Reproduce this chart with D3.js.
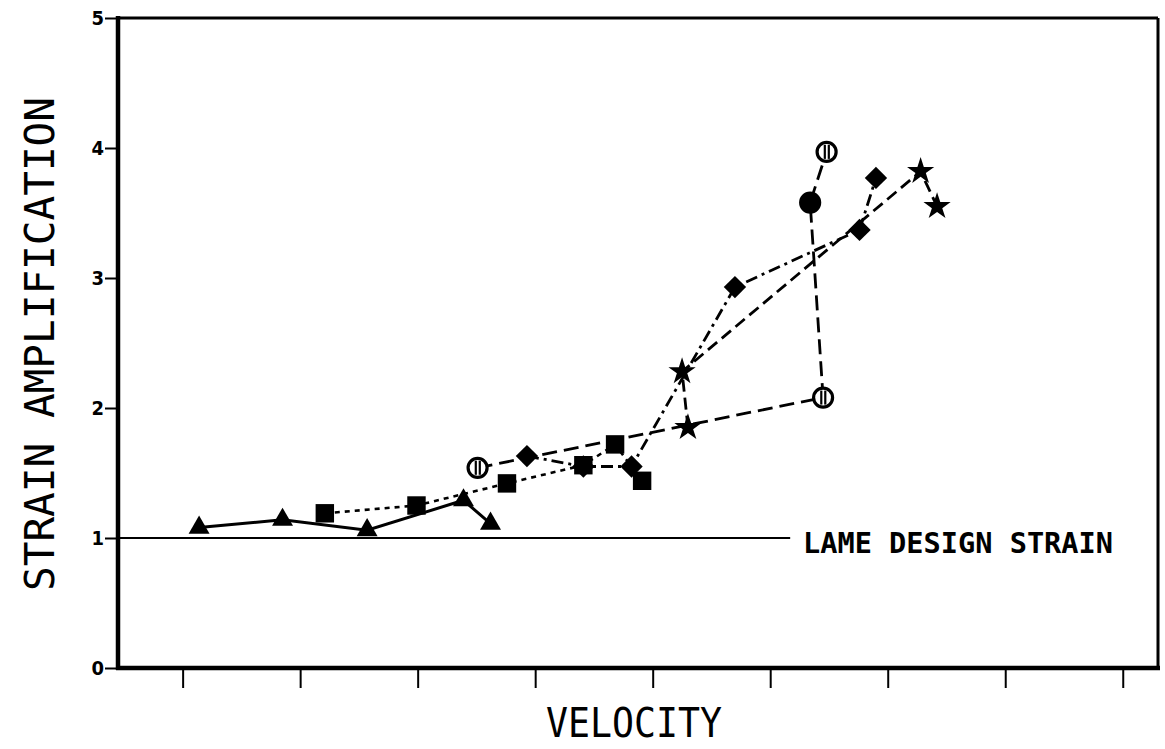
<!DOCTYPE html>
<html>
<head>
<meta charset="utf-8">
<script src="https://cdn.jsdelivr.net/npm/d3@7"></script>
<style>
  html, body { margin: 0; padding: 0; background: #fff; }
  svg { display: block; }
  text { font-family: "DejaVu Sans Mono", monospace; fill: #000; }
</style>
</head>
<body>
<svg id="chart" width="1165" height="749"></svg>
<script>
// Strain amplification against velocity, five test series
const yTicks = [0, 1, 2, 3, 4, 5];
const yTickLabels = ["0", "1", "2", "3", "4", "5"];
const xTicks = [1, 2, 3, 4, 5, 6, 7, 8, 9];

const triangleX = [1.14, 1.85, 2.57, 3.39, 3.62];
const triangleY = [1.08, 1.14, 1.06, 1.29, 1.11];

const squareX = [2.21, 2.99, 3.76, 4.41, 4.68, 4.91];
const squareY = [1.19, 1.25, 1.42, 1.56, 1.72, 1.44];

const diamondX = [3.93, 4.41, 4.82, 5.70, 6.76, 6.90];
const diamondY = [1.63, 1.55, 1.55, 2.93, 3.37, 3.77];

const starX = [5.30, 5.25, 7.28, 7.42];
const starY = [1.85, 2.28, 3.82, 3.55];

const circleX = [3.51, 6.45, 6.34, 6.48];
const circleY = [1.54, 2.08, 3.58, 3.97];
const circleFilled = [false, false, true, false];

const designStrain = 1;
const designLabel = "LAME DESIGN STRAIN";
const designEndX = 6.17;

const svg = d3.select("#chart");
const plotL = 118, plotR = 1158, plotT = 18, plotB = 668;

const x = d3.scaleLinear().domain([0.45, 9.3]).range([plotL, plotR]);
const y = d3.scaleLinear().domain([0, 5]).range([plotB, plotT]);

const pts = (xs, ys) => xs.map((v, i) => [v, ys[i]]);
const line = d3.line().x(d => x(d[0])).y(d => y(d[1]));

// Frame
svg.append("line").attr("x1", plotL).attr("x2", plotR).attr("y1", plotT).attr("y2", plotT)
  .attr("stroke", "#000").attr("stroke-width", 3);
svg.append("line").attr("x1", plotR).attr("x2", plotR).attr("y1", plotT).attr("y2", plotB)
  .attr("stroke", "#000").attr("stroke-width", 3);

// Axes
const yAxis = d3.axisLeft(y).tickValues(yTicks).tickSize(13).tickFormat((d, i) => yTickLabels[i]);
const gy = svg.append("g").attr("transform", `translate(${plotL},0)`).call(yAxis);
gy.select(".domain").attr("stroke-width", 4.5).attr("d", `M0,${plotT - 2}V${plotB + 2}`);
gy.selectAll(".tick line").attr("stroke-width", 2);
gy.selectAll(".tick text").attr("x", -14)
  .style("font-family", "'DejaVu Sans Condensed', sans-serif")
  .style("font-weight", "bold").style("font-size", "20px");

const xAxis = d3.axisBottom(x).tickValues(xTicks).tickSize(20).tickFormat("");
const gx = svg.append("g").attr("transform", `translate(0,${plotB})`).call(xAxis);
gx.select(".domain").attr("stroke-width", 4.5).attr("d", `M${plotL - 2},0H${plotR + 2}`);
gx.selectAll(".tick line").attr("stroke-width", 2);

// Design strain reference line
svg.append("line")
  .attr("x1", x(0.45)).attr("x2", x(designEndX))
  .attr("y1", y(designStrain)).attr("y2", y(designStrain))
  .attr("stroke", "#000").attr("stroke-width", 2);
svg.append("text")
  .attr("x", 803).attr("y", y(designStrain) + 15)
  .attr("textLength", 310).attr("lengthAdjust", "spacingAndGlyphs")
  .style("font-size", "29px").style("font-weight", "bold")
  .text(designLabel);

// Axis titles
svg.append("text")
  .attr("transform", `translate(54,${(plotT + plotB) / 2 + 1}) rotate(-90)`)
  .attr("text-anchor", "middle")
  .attr("textLength", 494).attr("lengthAdjust", "spacingAndGlyphs")
  .style("font-size", "41px")
  .text("STRAIN AMPLIFICATION");
svg.append("text")
  .attr("x", 634).attr("y", 737)
  .attr("text-anchor", "middle")
  .attr("textLength", 176).attr("lengthAdjust", "spacingAndGlyphs")
  .style("font-size", "40px")
  .text("VELOCITY");

// Series lines
const seriesLines = [
  { data: pts(triangleX, triangleY), dash: null, w: 3 },
  { data: pts(squareX, squareY), dash: "5,5", w: 2.6 },
  { data: pts(diamondX, diamondY), dash: "12,5,3,5", w: 2.8 },
  { data: pts(starX, starY), dash: "12,6", w: 2.8 },
  { data: pts(circleX, circleY), dash: "15,7", w: 2.8 }
];
svg.append("g").selectAll("path").data(seriesLines).join("path")
  .attr("d", d => line(d.data))
  .attr("fill", "none").attr("stroke", "#000")
  .attr("stroke-width", d => d.w)
  .attr("stroke-dasharray", d => d.dash);

// Markers
const sym = (type, size) => d3.symbol().type(type).size(size)();
const markers = svg.append("g");

markers.selectAll(".tri").data(pts(triangleX, triangleY)).join("path")
  .attr("transform", d => `translate(${x(d[0])},${y(d[1])})`)
  .attr("d", sym(d3.symbolTriangle, 190));

markers.selectAll(".sq").data(pts(squareX, squareY)).join("path")
  .attr("transform", d => `translate(${x(d[0])},${y(d[1])})`)
  .attr("d", sym(d3.symbolSquare, 340));

markers.selectAll(".dia").data(pts(diamondX, diamondY)).join("path")
  .attr("transform", d => `translate(${x(d[0])},${y(d[1])}) rotate(45)`)
  .attr("d", sym(d3.symbolSquare, 250));

markers.selectAll(".star").data(pts(starX, starY)).join("path")
  .attr("transform", d => `translate(${x(d[0])},${y(d[1])})`)
  .attr("d", sym(d3.symbolStar, 230));

const circ = markers.selectAll(".circ").data(circleX.map((v, i) => ({ x: v, y: circleY[i], f: circleFilled[i] })))
  .join("g")
  .attr("transform", d => `translate(${x(d.x)},${y(d.y)})`);
circ.append("circle").attr("r", 9.5)
  .attr("fill", d => d.f ? "#000" : "#fff")
  .attr("stroke", "#000").attr("stroke-width", 3.2);
circ.filter(d => !d.f).append("line")
  .attr("x1", -1.8).attr("x2", -1.8).attr("y1", -7).attr("y2", 7)
  .attr("stroke", "#000").attr("stroke-width", 2.2);
circ.filter(d => !d.f).append("line")
  .attr("x1", 2.2).attr("x2", 2.2).attr("y1", -7).attr("y2", 7)
  .attr("stroke", "#000").attr("stroke-width", 2.2);
</script>
</body>
</html>
